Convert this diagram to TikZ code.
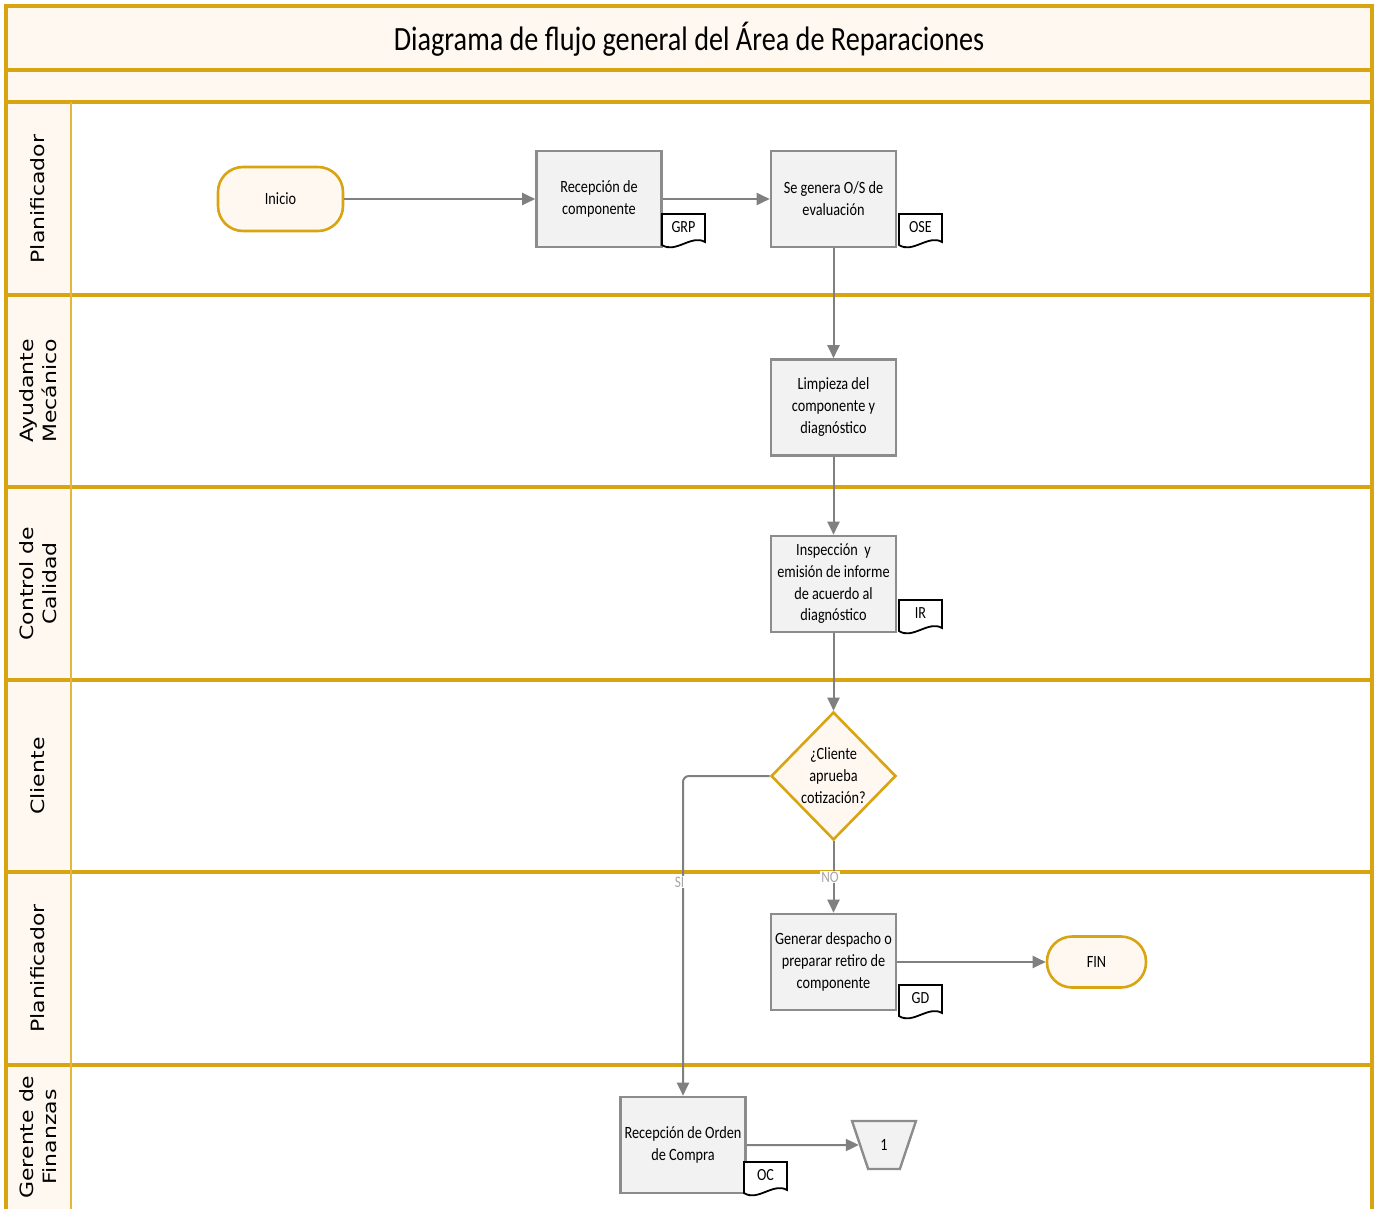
\documentclass[tikz,border=0pt]{standalone}
\usepackage{fontspec}
\setmainfont{Carlito}
\newfontfamily\nodefont[FakeStretch=0.83]{Carlito}
\newfontfamily\lanefont[FakeStretch=1.2]{DejaVu Sans}
\usetikzlibrary{arrows.meta,shapes.geometric,calc}
\definecolor{gold}{HTML}{D9A412}
\definecolor{goldlight}{HTML}{E3B63C}
\definecolor{cream}{HTML}{FFF8F1}
\definecolor{boxfill}{HTML}{F2F2F2}
\definecolor{boxline}{HTML}{8C8C8C}
\definecolor{conn}{HTML}{808080}
\definecolor{lbl}{HTML}{A6A6A6}
\tikzset{
  lane/.style={draw=gold, line width=3.2pt},
  lanetext/.style={rotate=90, font=\lanefont\fontsize{18.3}{23}\selectfont, align=center, text=black},
  txt/.style={font=\nodefont\fontsize{17.2}{22}\selectfont},
  proc/.style={txt, draw=boxline, fill=boxfill, line width=2.6pt, minimum width=125pt, minimum height=96pt, align=center, inner sep=0pt},
  term/.style={txt, draw=gold, fill=cream, line width=2.6pt, rounded corners=25pt, align=center},
  decision/.style={txt, diamond, draw=gold, fill=cream, line width=2.6pt, minimum width=125pt, minimum height=128pt, align=center, inner sep=0pt, aspect=0.98},
  flow/.style={draw=conn, line width=2pt, -{Triangle[length=13pt,width=12pt]}},
  flowlbl/.style={fill=white, text=lbl, font=\nodefont\fontsize{16}{18}\selectfont, inner sep=1pt},
  doc/.pic={
    \draw[black, fill=white, line width=1.8pt] (-21.5,0) -- (21.5,0) -- (21.5,28) .. controls (8,20) and (-8,40) .. (-21.5,31) -- cycle;
    \node[font=\nodefont\fontsize{17}{18}\selectfont] (-t) at (0,13) {#1};
  }
}
\begin{document}
\begin{tikzpicture}[x=1pt,y=-1pt]
\useasboundingbox (0,0) rectangle (1374,1209);
% backgrounds
\fill[cream] (6,6) rectangle (1372,102);
\fill[cream] (6,102) rectangle (71,1209);
% frame and lanes
\foreach \yy in {70,102,295,487,680,872,1065} {
  \draw[lane] (6,\yy) -- (1372,\yy);
}
\draw[draw=goldlight, line width=2.6pt] (71,102) -- (71,1209);
\draw[draw=gold, line width=4pt] (6,1209) -- (6,6) -- (1372,6) -- (1372,1209);
% title
\node[font=\nodefont\fontsize{34}{36}\selectfont] (title) at (689,39) {Diagrama de flujo general del Área de Reparaciones};
% lane labels
\node[lanetext] (l1) at (38,199) {Planificador};
\node[lanetext] (l2) at (38,391) {Ayudante\\Mecánico};
\node[lanetext] (l3) at (38,583.5) {Control de\\Calidad};
\node[lanetext] (l4) at (38,776) {Cliente};
\node[lanetext] (l5) at (38,968.5) {Planificador};
\node[lanetext] (l6) at (38,1137) {Gerente de\\Finanzas};
% nodes
\node[term, minimum width=125pt, minimum height=64pt] (inicio) at (280.5,199) {Inicio};
\node[proc] (recep) at (599,199) {Recepción de\\componente};
\node[proc] (osgen) at (833.5,199) {Se genera O/S de\\evaluación};
\node[proc] (limp) at (833.5,407.5) {Limpieza del\\componente y\\diagnóstico};
\node[proc, font=\nodefont\fontsize{17.2}{21.7}\selectfont] (insp) at (833.5,584) {Inspección~ y\\emisión de informe\\de acuerdo al\\diagnóstico};
\node[decision] (dec) at (833.5,776) {¿Cliente\\aprueba\\cotización?};
\node[proc] (desp) at (833.5,962) {Generar despacho o\\preparar retiro de\\componente};
\node[term, minimum width=99pt, minimum height=51pt] (fin) at (1096.5,962) {FIN};
\node[proc] (roc) at (683,1145) {Recepción de Orden\\de Compra};
\node[trapezium, shape border rotate=180, trapezium left angle=71.6, trapezium right angle=71.6, trapezium stretches=true, draw=boxline, fill=boxfill, line width=2.4pt, minimum width=64pt, minimum height=48pt, inner sep=0pt, txt] (c1) at (884,1145) {1};
% documents
\pic (grp) at (683.5,214) {doc=GRP};
\pic (ose) at (920.5,214) {doc=OSE};
\pic (ir) at (920.5,600) {doc=IR};
\pic (gd) at (920.5,985) {doc=GD};
\pic (oc) at (765.5,1162) {doc=OC};
% connectors
\draw[flow] (inicio) -- (recep);
\draw[flow] (recep) -- (osgen);
\draw[flow] (osgen) -- (limp);
\draw[flow] (limp) -- (insp);
\draw[flow] (insp) -- (dec);
\draw[flow, rounded corners=6pt] (dec.west) -| (roc.north);
\draw[flow] (dec.south) -- (desp.north);
\draw[flow] (desp) -- (fin);
\draw[flow] (roc) -- (c1);
\node[flowlbl] (si) at (679.5,882) {SI};
\node[flowlbl] (no) at (830,877) {NO};
\end{tikzpicture}
\end{document}
